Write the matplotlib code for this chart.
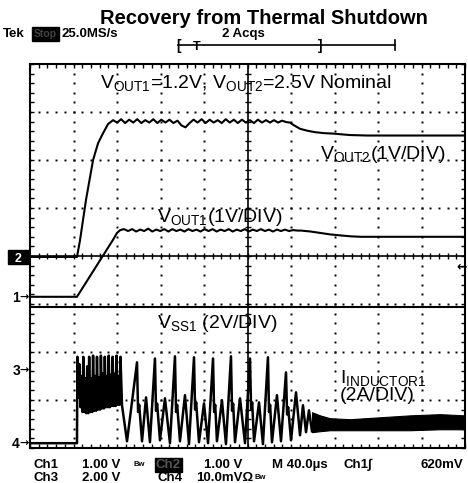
import numpy as np
import matplotlib.pyplot as plt
from matplotlib.patches import Rectangle
from matplotlib.lines import Line2D

plt.rcParams['font.family'] = ['Liberation Sans', 'DejaVu Sans']
plt.rcParams['mathtext.fontset'] = 'custom'
plt.rcParams['mathtext.rm'] = 'Liberation Sans'
plt.rcParams['mathtext.it'] = 'Liberation Sans:italic'
plt.rcParams['mathtext.bf'] = 'Liberation Sans:bold'

W, H = 468, 483

# scope setup: 40us/div, per-channel scale (units/div) and marker offset (div)
tdiv = 40.0
ch_scale = {1: 1.0, 2: 1.0, 3: 2.0, 4: 2.0}
ch_offset = {1: -0.85, 2: -0.02, 3: -2.375, 4: -3.9}

# Ch1: VOUT1 [V]
vout1_t = [0, 43.2, 76.4, 80.0, 83.0, 86.5,
           90.2, 93.9, 97.6, 101.3, 105.0, 108.7, 112.4, 116.1, 119.8, 123.5, 127.2,
           130.9, 134.6, 138.3, 142.0, 145.7, 149.4, 153.1, 156.8, 160.5, 164.2, 167.9,
           171.6, 175.3, 179.0, 182.7, 186.4, 190.1, 193.8, 197.5, 201.2, 204.9, 208.6,
           212.3, 216.0, 219.7, 223.4, 227.1, 230.8, 234.5, 238.2, 241.9, 245.6,
           249, 258, 267, 276, 285, 295, 304, 400]
vout1_v = [0, 0, 1.19, 1.33, 1.39, 1.41,
           1.37, 1.41, 1.36, 1.40, 1.37, 1.42, 1.36, 1.40, 1.37, 1.41, 1.36,
           1.41, 1.37, 1.40, 1.36, 1.41, 1.37, 1.40, 1.36, 1.41, 1.37, 1.41,
           1.36, 1.40, 1.37, 1.41, 1.36, 1.40, 1.37, 1.41, 1.36, 1.40, 1.37,
           1.41, 1.37, 1.40, 1.36, 1.40, 1.37, 1.40, 1.37, 1.39, 1.38,
           1.38, 1.36, 1.33, 1.30, 1.28, 1.26, 1.25, 1.25]

# Ch2: VOUT2 [V]
vout2_t = [0, 43.2, 46.0, 51.5, 58.0, 62.6, 67.2, 71.8, 76.4,
           80.1, 83.8, 87.5, 91.2, 94.9, 98.6, 102.3, 106.0, 109.7, 113.4, 117.1,
           120.8, 124.5, 128.2, 131.9, 135.6, 139.3, 143.0, 146.7, 150.4, 154.1,
           157.8, 161.5, 165.2, 168.9, 172.6, 176.3, 180.0, 183.7, 187.4, 191.1,
           194.8, 198.5, 202.2, 205.9, 209.6, 213.3, 217.0, 220.7, 224.4, 228.1,
           231.8, 235.5,
           239.0, 243.0, 248.3, 255, 262, 270, 279, 294, 310, 400]
vout2_v = [0, 0, 0.35, 1.19, 2.02, 2.37, 2.58, 2.77, 2.85,
           2.80, 2.87, 2.79, 2.86, 2.80, 2.87, 2.79, 2.85, 2.80, 2.87, 2.79,
           2.86, 2.80, 2.86, 2.79, 2.84, 2.74, 2.70, 2.79, 2.86, 2.80,
           2.87, 2.79, 2.86, 2.80, 2.85, 2.79, 2.87, 2.80, 2.86, 2.79,
           2.86, 2.80, 2.85, 2.79, 2.86, 2.80, 2.85, 2.80, 2.85, 2.80,
           2.84, 2.81,
           2.80, 2.74, 2.67, 2.63, 2.60, 2.58, 2.57, 2.54, 2.53, 2.53]

# Ch3: VSS1 [V]
vss1_t = [0, 400]
vss1_v = [2.62, 2.62]

# Ch4: inductor current [A]
ind_t = [0, 43.2, 43.6,
         44.6, 45.4, 46.4, 47.2, 48.2, 49.0, 50.0, 50.8, 51.8, 52.6, 53.6, 54.4,
         55.4, 56.2, 57.2, 58.0, 59.0, 59.8, 60.8, 61.6, 62.6, 63.4, 64.4, 65.2,
         66.2, 67.0, 68.0, 68.8, 69.8, 70.6, 71.6, 72.4, 73.4, 74.2, 75.2, 76.0,
         77.0, 77.8, 78.8, 79.6, 80.6, 81.4, 82.4, 83.2, 84.6,
         89.2, 98.4, 99.4, 100.4, 103.0, 106.7, 110.3,
         114.9, 115.9, 116.9, 119.5, 124.1, 128.7,
         133.3, 134.3, 135.3, 137.9, 142.5, 146.2,
         150.8, 151.8, 152.8, 155.4, 160.0, 163.7,
         168.3, 169.3, 170.3, 171.9, 176.5, 180.2,
         184.8, 185.8, 186.8, 188.5, 193.1, 197.7,
         202.3, 203.3, 204.3, 206.0, 210.6, 214.2,
         218.8, 219.8, 220.8, 222.5, 227.1, 230.8,
         235.4, 236.4, 237.4, 240.0, 244.6, 248.3,
         251.0, 253.8, 256.5, 259.3]
ind_a = [0, 0, 3.6,
         1.9, 3.3, 1.5, 2.8, 1.3, 3.6, 1.3, 2.7, 1.25, 3.2, 1.25, 3.6,
         1.3, 2.7, 1.3, 3.65, 1.35, 2.8, 1.35, 3.6, 1.4, 2.75, 1.4, 3.65,
         1.45, 2.9, 1.45, 3.6, 1.5, 2.8, 1.5, 3.65, 1.5, 2.85, 1.55, 3.6,
         1.55, 2.9, 1.55, 3.65, 1.6, 2.8, 1.6, 3.6, 1.58,
         0.08, 3.37, 1.30, 1.60, 0.08, 1.91, 0.04,
         3.53, 1.35, 1.65, 0.12, 1.87, 0.0,
         3.62, 1.30, 1.60, 0.08, 2.0, -0.04,
         3.58, 1.40, 1.70, 0.04, 1.66, 0.0,
         3.53, 1.30, 1.60, 0.08, 1.79, -0.04,
         3.62, 1.35, 1.65, 0.04, 1.87, 0.0,
         3.53, 1.40, 1.70, 0.08, 1.70, -0.04,
         3.58, 1.30, 1.60, 0.04, 2.0, 0.08,
         2.95, 1.20, 1.50, 0.12, 2.12, 0.33,
         1.58, 0.46, 1.37, 0.5]
# settled ripple band (envelope)
band_t = [259.3, 266.7, 275.9, 294.2, 321.8, 349.4, 377.0, 400.0]
band_hi = [1.29, 1.16, 1.04, 1.00, 1.08, 1.16, 1.21, 1.16]
band_lo = [0.46, 0.50, 0.54, 0.54, 0.54, 0.54, 0.58, 0.58]


def scr(ch, vals):
    return np.array(vals) / ch_scale[ch] + ch_offset[ch]


fig = plt.figure(figsize=(W / 100, H / 100), dpi=100)
ax = fig.add_axes([30 / W, 35 / H, 435 / W, 384 / H])
ax.set_xlim(0, 10 * tdiv)
ax.set_ylim(-4, 4)

# graticule
ax.set_xticks(np.arange(0, 401, tdiv))
ax.set_xticks(np.arange(0, 401, tdiv / 5), minor=True)
ax.set_yticks(np.arange(-4, 5, 1))
ax.set_yticks(np.arange(-4, 4.01, 0.2), minor=True)
ax.tick_params(which='both', direction='in', top=True, right=True,
               labelbottom=False, labelleft=False, length=3, width=1, color='k')
for s in ax.spines.values():
    s.set_linewidth(1.5)

gx, gy = [], []
for k in range(1, 10):
    if k == 5:
        continue
    yy = np.arange(-4, 4.01, 0.2)
    gx += [k * tdiv] * len(yy)
    gy += list(yy)
for k in range(-3, 4):
    if k == 0:
        continue
    xx = np.arange(0, 401, tdiv / 5)
    gx += list(xx)
    gy += [k] * len(xx)
ax.plot(gx, gy, 's', ms=1.4, mew=0, color='k')

ax.axhline(0, color='k', lw=1.2)
ax.axvline(5 * tdiv, color='k', lw=1.2)
cx = np.arange(tdiv / 5, 400, tdiv / 5)
ax.plot(cx, np.zeros_like(cx), '|', ms=5, mew=1, color='k')
cy = np.arange(-3.8, 4, 0.2)
ax.plot(np.full_like(cy, 5 * tdiv), cy, '_', ms=5, mew=1, color='k')

# traces
lw = 1.5
ax.plot(vout1_t, scr(1, vout1_v), color='k', lw=lw)
ax.plot(vout2_t, scr(2, vout2_v), color='k', lw=lw)
ax.plot(vss1_t, scr(3, vss1_v), color='k', lw=lw)
ax.plot(ind_t, scr(4, ind_a), color='k', lw=1.8)
ax.fill_between(band_t, scr(4, band_hi), scr(4, band_lo), color='k', lw=0.8)


def put(x, y, s, **kw):
    return fig.text(x / W, 1 - y / H, s, **kw)


# labels inside the screen
fs = 14
put(100, 88, r'V$_{\rm OUT1}$=1.2V, V$_{\rm OUT2}$=2.5V Nominal', fontsize=fs, va='baseline')
put(320, 159, r'V$_{\rm OUT2}$(1V/DIV)', fontsize=fs, va='baseline')
put(157, 222, r'V$_{\rm OUT1}$(1V/DIV)', fontsize=fs, va='baseline')
put(157, 328, r'V$_{\rm SS1}$ (2V/DIV)', fontsize=fs, va='baseline')
put(340, 383, r'I$_{\rm INDUCTOR1}$', fontsize=fs, va='baseline')
put(340, 400, '(2A/DIV)', fontsize=fs, va='baseline')

# header
put(264, 24, 'Recovery from Thermal Shutdown', fontsize=14.5, fontweight='bold',
    ha='center', va='baseline')
hb = dict(fontsize=9.5, fontweight='bold', va='baseline')
put(3, 37, 'Tek', **hb)
put(34, 37, 'Stop', color='#444444', fontsize=7.5, fontweight='bold', va='baseline',
    bbox=dict(boxstyle='square,pad=0.2', fc='k', ec='k'))
put(61, 37, '25.0MS/s', **hb)
put(222, 37, '2 Acqs', **hb)
fig.add_artist(Line2D([178 / W, 395 / W], [1 - 45 / H] * 2, color='k', lw=1.2))
fig.add_artist(Line2D([395 / W, 395 / W], [1 - 40 / H, 1 - 50 / H], color='k', lw=1.2))
put(176, 50, '[', fontsize=10, fontweight='bold', va='baseline')
put(318, 50, ']', fontsize=10, fontweight='bold', va='baseline')
put(193, 50, 'T', fontsize=9, fontweight='bold', va='baseline')

# channel markers
fig.add_artist(Rectangle((8 / W, 1 - 264 / H), 21 / W, 14 / H, color='k'))
put(18, 262, '2', color='w', fontsize=9, fontweight='bold', ha='center', va='baseline')
for lab, yy in [('1', 297), ('3', 370), ('4', 443)]:
    put(20, yy + 5, lab, fontsize=10, fontweight='bold', ha='right', va='baseline')
    put(19, yy, '\u2192', fontsize=8, fontweight='bold', va='center',
        family=['DejaVu Sans'])
put(467, 267, '\u2190', fontsize=9, fontweight='bold', ha='right', va='center',
    family=['DejaVu Sans'])

# footer
fb = dict(fontsize=9.5, fontweight='bold', va='baseline')
put(33, 468, 'Ch1', **fb)
put(82, 468, '1.00 V', **fb)
put(134, 466, 'Bw', fontsize=5.5, fontweight='bold', va='baseline')
put(156, 468, 'Ch2', color='#555555', bbox=dict(boxstyle='square,pad=0.1', fc='k', ec='k'), **fb)
put(204, 468, '1.00 V', **fb)
put(272, 468, 'M 40.0\u00b5s', **fb)
put(343, 468, 'Ch1', **fb)
put(368, 468, '\u222b', **fb)
put(463, 468, '620mV', ha='right', **fb)
put(33, 481, 'Ch3', **fb)
put(82, 481, '2.00 V', **fb)
put(157, 481, 'Ch4', **fb)
put(196, 481, '10.0mV\u03a9', **fb)
put(255, 479, 'Bw', fontsize=5.5, fontweight='bold', va='baseline')

fig.savefig('out.png', dpi=100)
